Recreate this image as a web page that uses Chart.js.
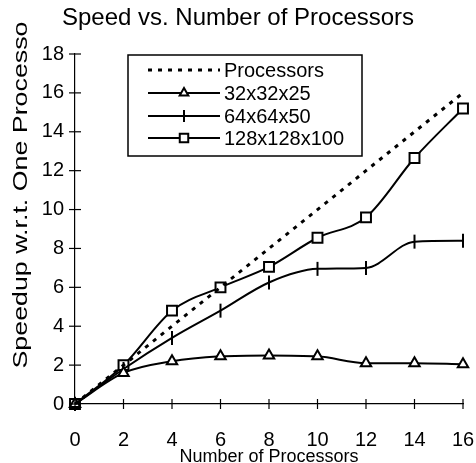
<!DOCTYPE html>
<html><head><meta charset="utf-8">
<script src="https://cdn.jsdelivr.net/npm/chart.js@4.4.1/dist/chart.umd.min.js"></script>
<style>html,body{margin:0;padding:0;background:#fff}#wrap{width:476px;height:463px}</style>
</head><body><div id="wrap"><canvas id="c" width="476" height="463"></canvas></div>
<script>
const processors = [0, 2, 4, 6, 8, 10, 12, 14, 16];
const ideal = [0, 2, 4, 6, 8, 10, 12, 14, 16];
const s32 = [0, 1.6, 2.2, 2.45, 2.5, 2.45, 2.1, 2.1, 2.05];
const s64 = [0, 1.8, 3.4, 4.8, 6.25, 6.95, 7.0, 8.35, 8.4];
const s128 = [0, 2.0, 4.8, 6.0, 7.05, 8.55, 9.6, 12.65, 15.2];
const seriesNames = ['Processors', '32x32x25', '64x64x50', '128x128x100'];
const yTickValues = [0, 2, 4, 6, 8, 10, 12, 14, 16, 18];
const xTickValues = [0, 2, 4, 6, 8, 10, 12, 14, 16];
const titleText = 'Speed vs. Number of Processors';
const xTitleText = 'Number of Processors';
const yTitleText = 'Speedup w.r.t. One Processo';

const FONT = '"Liberation Sans", Arial, Helvetica, sans-serif';
const pts = ys => processors.map((x, i) => ({x: x, y: ys[i]}));

const common = {borderColor: '#000', backgroundColor: '#fff', pointBorderColor: '#000',
  pointBackgroundColor: '#fff', borderWidth: 2, pointBorderWidth: 2, cubicInterpolationMode: 'monotone',
  clip: false};

const datasets = [
  Object.assign({}, common, {label: seriesNames[0], data: pts(ideal), borderDash: [4, 6], borderWidth: 3,
    pointRadius: 0, cubicInterpolationMode: 'default', tension: 0}),
  Object.assign({}, common, {label: seriesNames[1], data: pts(s32), pointStyle: 'triangle', pointRadius: 6}),
  Object.assign({}, common, {label: seriesNames[2], data: pts(s64), pointStyle: 'line', pointRotation: 90, pointRadius: 7}),
  Object.assign({}, common, {label: seriesNames[3], data: pts(s128), pointStyle: 'rect', pointRadius: 7})
];

const axisTicks = {
  id: 'axisTicks',
  afterDatasetsDraw(chart) {
    const ctx = chart.ctx, xs = chart.scales.x, ys = chart.scales.y;
    ctx.save();
    ctx.strokeStyle = '#000'; ctx.lineWidth = 1.2;
    const ax = xs.getPixelForValue(0), ay = ys.getPixelForValue(0);
    yTickValues.forEach(v => { const p = ys.getPixelForValue(v);
      ctx.beginPath(); ctx.moveTo(ax - 6, p); ctx.lineTo(ax + 6, p); ctx.stroke(); });
    xTickValues.forEach(v => { const p = xs.getPixelForValue(v);
      ctx.beginPath(); ctx.moveTo(p, ay - 5); ctx.lineTo(p, ay + 5); ctx.stroke(); });
    ctx.restore();
  }
};

const boxLegend = {
  id: 'boxLegend',
  afterDraw(chart) {
    const ctx = chart.ctx;
    const L = 128, T = 55, R = 362, B = 156;
    ctx.save();
    ctx.fillStyle = '#fff'; ctx.fillRect(L, T, R - L, B - T);
    ctx.strokeStyle = '#000'; ctx.lineWidth = 1.5; ctx.strokeRect(L, T, R - L, B - T);
    const rows = [70, 93, 116, 138];
    chart.data.datasets.forEach((ds, i) => {
      const y = rows[i];
      ctx.strokeStyle = '#000'; ctx.lineWidth = ds.borderWidth;
      ctx.setLineDash(ds.borderDash || []);
      ctx.beginPath(); ctx.moveTo(148, y); ctx.lineTo(220, y); ctx.stroke();
      ctx.setLineDash([]);
      if (ds.pointRadius > 0) {
        ctx.fillStyle = '#fff'; ctx.strokeStyle = '#000'; ctx.lineWidth = ds.pointBorderWidth;
        Chart.helpers.drawPoint(ctx, {pointStyle: ds.pointStyle, rotation: ds.pointRotation || 0,
          radius: ds.pointRadius - 1, borderWidth: ds.pointBorderWidth}, 184, y);
      }
      ctx.fillStyle = '#000'; ctx.font = '20px ' + FONT;
      ctx.textAlign = 'left'; ctx.textBaseline = 'middle';
      ctx.fillText(ds.label, 224, y + 1);
    });
    ctx.restore();
  }
};

const yTitle = {
  id: 'yTitle',
  afterDraw(chart) {
    const ctx = chart.ctx;
    ctx.save();
    ctx.font = '21px ' + FONT;
    const w = ctx.measureText(yTitleText).width;
    ctx.translate(27, 195);
    ctx.rotate(-Math.PI / 2);
    ctx.scale(347 / w, 1);
    ctx.fillStyle = '#000'; ctx.textAlign = 'center'; ctx.textBaseline = 'alphabetic';
    ctx.fillText(yTitleText, 0, 0);
    ctx.restore();
  }
};

new Chart(document.getElementById('c'), {
  type: 'line',
  data: {datasets: datasets},
  plugins: [axisTicks, boxLegend, yTitle],
  options: {
    responsive: false, devicePixelRatio: 1, animation: false,
    layout: {padding: {left: 0, right: 0, top: 0, bottom: 0}},
    plugins: {
      legend: {display: false}, tooltip: {enabled: false},
      title: {display: true, text: titleText, color: '#000',
        font: {family: FONT, size: 24, weight: 'normal', lineHeight: 1}, padding: {top: 6, bottom: 24}}
    },
    scales: {
      x: {type: 'linear', min: 0, max: 16,
        afterBuildTicks: s => { s.ticks = xTickValues.map(v => ({value: v})); },
        afterFit: s => { s.height = 59; s.paddingRight = 13; },
        grid: {display: false, drawTicks: false},
        border: {display: true, color: '#000', width: 1.2},
        ticks: {color: '#000', padding: 24, font: {family: FONT, size: 20}, maxRotation: 0, autoSkip: false},
        title: {display: true, text: xTitleText, color: '#000', padding: {top: 0, bottom: -3},
          font: {family: FONT, size: 18, lineHeight: 1}}
      },
      y: {type: 'linear', min: 0, max: 18,
        afterBuildTicks: s => { s.ticks = yTickValues.map(v => ({value: v})); },
        afterFit: s => { s.width = 75; },
        grid: {display: false, drawTicks: false},
        border: {display: true, color: '#000', width: 1.2},
        ticks: {color: '#000', padding: 11, font: {family: FONT, size: 20}, autoSkip: false}
      }
    }
  }
});
</script></body></html>
